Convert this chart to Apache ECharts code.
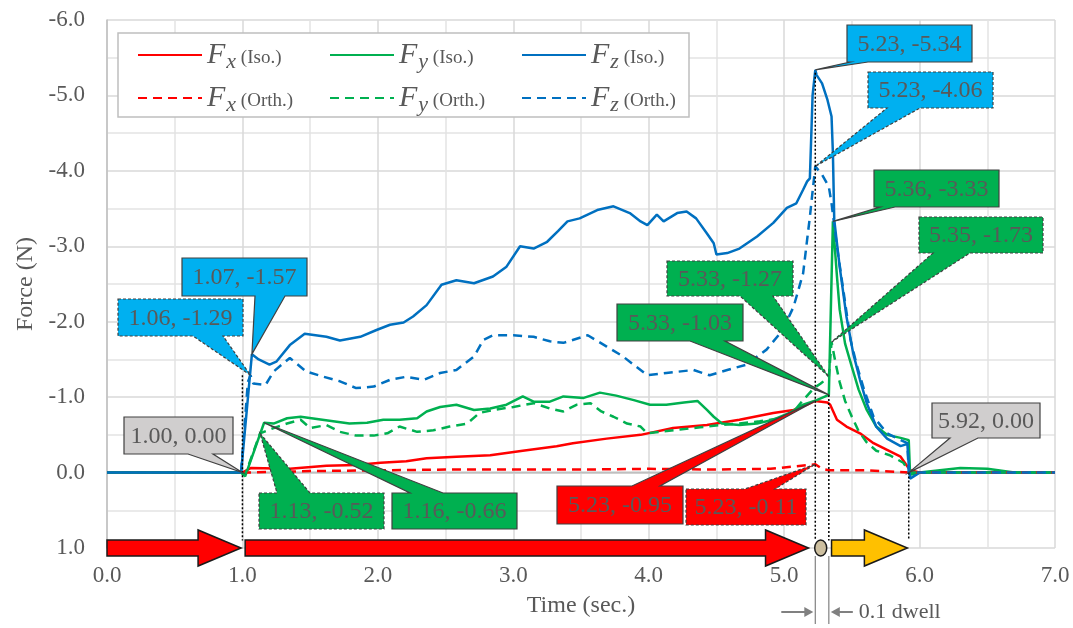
<!DOCTYPE html>
<html>
<head>
<meta charset="utf-8">
<title>Force vs time</title>
<script src="https://cdn.jsdelivr.net/npm/echarts@6/dist/echarts.min.js"></script>
<style>
  html, body { margin: 0; padding: 0; background: #ffffff; }
  #chart { width: 1073px; height: 628px; }
</style>
</head>
<body>
<div id="chart"></div>
<script>
  // ---- data (time in s, force in N) ----
  const fxIsoT = [0, 0.5, 1.0, 1.06, 1.35, 1.62, 1.84, 2.02, 2.21, 2.36, 2.58, 2.83, 3.07, 3.32, 3.44, 3.69, 3.94, 4.18, 4.43, 4.67, 4.92, 5.07, 5.17, 5.23, 5.32, 5.34, 5.39, 5.46, 5.56, 5.66, 5.76, 5.86, 5.93, 6.0, 7.0];
  const fxIsoV = [0, 0, 0, -0.06, -0.05, -0.09, -0.10, -0.13, -0.15, -0.19, -0.21, -0.23, -0.29, -0.35, -0.39, -0.45, -0.50, -0.59, -0.63, -0.70, -0.79, -0.83, -0.90, -0.95, -0.93, -0.90, -0.70, -0.61, -0.52, -0.39, -0.30, -0.21, -0.03, 0, 0];

  const fyIsoT = [0, 0.5, 0.99, 1.0, 1.02, 1.16, 1.23, 1.33, 1.43, 1.55, 1.67, 1.79, 1.92, 2.04, 2.16, 2.29, 2.36, 2.46, 2.58, 2.71, 2.83, 2.95, 3.07, 3.15, 3.27, 3.37, 3.52, 3.64, 3.76, 3.89, 4.01, 4.13, 4.26, 4.36, 4.43, 4.48, 4.54, 4.67, 4.80, 4.92, 5.04, 5.14, 5.24, 5.33, 5.36, 5.39, 5.41, 5.45, 5.50, 5.55, 5.61, 5.68, 5.76, 5.86, 5.92, 5.93, 6.0, 6.3, 6.5, 6.7, 7.0];
  const fyIsoV = [0, 0, 0, 0, 0.05, -0.66, -0.65, -0.72, -0.74, -0.71, -0.68, -0.65, -0.66, -0.70, -0.70, -0.72, -0.81, -0.87, -0.90, -0.83, -0.85, -0.90, -1.01, -0.94, -0.94, -1.01, -0.99, -1.06, -1.02, -0.96, -0.90, -0.90, -0.93, -0.95, -0.83, -0.74, -0.65, -0.63, -0.65, -0.70, -0.79, -0.90, -0.96, -1.03, -3.33, -2.60, -2.16, -1.71, -1.40, -1.10, -0.83, -0.61, -0.50, -0.46, -0.43, 0.03, 0, -0.06, -0.05, 0, 0];

  const fzIsoT = [0, 0.5, 0.99, 1.0, 1.07, 1.12, 1.20, 1.25, 1.35, 1.46, 1.62, 1.72, 1.87, 1.99, 2.09, 2.19, 2.26, 2.36, 2.47, 2.58, 2.71, 2.85, 2.95, 3.05, 3.15, 3.25, 3.33, 3.40, 3.49, 3.62, 3.74, 3.86, 3.94, 3.99, 4.06, 4.11, 4.21, 4.28, 4.35, 4.43, 4.48, 4.50, 4.58, 4.67, 4.80, 4.92, 5.02, 5.09, 5.14, 5.17, 5.19, 5.21, 5.23, 5.24, 5.28, 5.32, 5.35, 5.36, 5.37, 5.41, 5.46, 5.51, 5.56, 5.61, 5.68, 5.76, 5.86, 5.91, 5.92, 5.93, 6.0, 6.5, 7.0];
  const fzIsoV = [0, 0, 0, 0, -1.57, -1.50, -1.43, -1.47, -1.69, -1.84, -1.80, -1.75, -1.80, -1.89, -1.96, -1.99, -2.07, -2.22, -2.49, -2.55, -2.51, -2.60, -2.73, -3.00, -2.97, -3.06, -3.20, -3.33, -3.37, -3.48, -3.53, -3.44, -3.33, -3.28, -3.42, -3.33, -3.44, -3.46, -3.37, -3.17, -3.04, -2.89, -2.91, -2.97, -3.13, -3.31, -3.51, -3.57, -3.75, -3.86, -3.90, -5.00, -5.34, -5.27, -5.16, -4.94, -4.72, -4.24, -3.35, -2.73, -2.07, -1.58, -1.23, -0.92, -0.61, -0.45, -0.35, -0.38, -0.10, 0.08, 0, 0, 0];

  const fxOrthT = [0, 1.0, 1.5, 2.0, 2.5, 3.0, 3.5, 4.0, 4.5, 4.9, 5.07, 5.23, 5.28, 5.33, 5.6, 5.93, 6.0, 7.0];
  const fxOrthV = [0, 0, -0.02, -0.03, -0.04, -0.04, -0.04, -0.05, -0.04, -0.05, -0.08, -0.11, -0.05, -0.03, -0.03, 0, 0, 0];

  const fyOrthT = [0, 0.5, 0.99, 1.0, 1.02, 1.13, 1.23, 1.33, 1.43, 1.50, 1.62, 1.72, 1.84, 1.97, 2.07, 2.16, 2.29, 2.41, 2.53, 2.66, 2.75, 2.85, 3.00, 3.15, 3.27, 3.37, 3.47, 3.57, 3.65, 3.74, 3.84, 3.94, 3.99, 4.08, 4.23, 4.38, 4.53, 4.67, 4.82, 4.97, 5.07, 5.14, 5.22, 5.27, 5.33, 5.35, 5.38, 5.41, 5.45, 5.50, 5.55, 5.61, 5.68, 5.78, 5.88, 5.93, 6.0, 7.0];
  const fyOrthV = [0, 0, 0, 0, 0.03, -0.52, -0.59, -0.65, -0.70, -0.59, -0.63, -0.54, -0.49, -0.49, -0.52, -0.61, -0.54, -0.56, -0.61, -0.65, -0.79, -0.83, -0.87, -0.92, -0.85, -0.81, -0.90, -0.92, -0.81, -0.74, -0.65, -0.61, -0.52, -0.54, -0.57, -0.60, -0.63, -0.65, -0.68, -0.72, -0.81, -0.96, -1.12, -1.18, -1.27, -1.73, -1.45, -1.20, -0.95, -0.74, -0.55, -0.40, -0.29, -0.23, -0.13, 0, 0, 0];

  const fzOrthT = [0, 0.5, 0.99, 1.0, 1.04, 1.06, 1.08, 1.17, 1.23, 1.35, 1.47, 1.60, 1.72, 1.84, 1.97, 2.09, 2.21, 2.34, 2.46, 2.58, 2.71, 2.78, 2.85, 3.00, 3.15, 3.27, 3.37, 3.55, 3.69, 3.81, 3.91, 3.99, 4.13, 4.33, 4.45, 4.58, 4.72, 4.87, 4.99, 5.07, 5.14, 5.19, 5.23, 5.28, 5.33, 5.35, 5.39, 5.44, 5.49, 5.54, 5.59, 5.66, 5.76, 5.86, 5.91, 5.92, 6.0, 6.5, 7.0];
  const fzOrthV = [0, 0, 0, 0, -1.20, -1.29, -1.18, -1.16, -1.34, -1.52, -1.34, -1.27, -1.21, -1.12, -1.14, -1.23, -1.27, -1.23, -1.32, -1.36, -1.54, -1.76, -1.82, -1.82, -1.80, -1.74, -1.72, -1.82, -1.67, -1.54, -1.40, -1.29, -1.32, -1.36, -1.29, -1.36, -1.43, -1.63, -1.89, -2.20, -2.64, -3.39, -4.06, -3.95, -3.79, -3.57, -3.00, -2.38, -1.76, -1.40, -1.10, -0.74, -0.52, -0.43, -0.39, 0, 0, 0, 0];

  const zeroT = [0, 7];
  const zeroV = [0, 0];

  // ---- style ----
  const serif = 'Liberation Serif';
  const grey = '#595959';
  const RED = '#FF0000';
  const GREEN = '#00B050';
  const BLUE = '#0070C0';

  const pairs = (t, v) => t.map((x, i) => [x, v[i]]);

  const lineSeries = (name, t, v, color, dashed) => ({
    name: name,
    type: 'line',
    data: pairs(t, v),
    symbol: 'none',
    z: 3,
    lineStyle: { color: color, width: 2.5, type: dashed ? [9, 6] : 'solid' },
    itemStyle: { color: color },
  });

  const legendFormatter = function (name) {
    const p = name.split(' ');
    return '{f|F}{s|' + p[0][1] + '}{p| ' + p[1] + '}';
  };
  const legendRich = {
    f: { fontFamily: serif, fontStyle: 'italic', fontSize: 30, color: grey },
    s: { fontFamily: serif, fontStyle: 'italic', fontSize: 22, color: grey, padding: [14, 0, 0, 1] },
    p: { fontFamily: serif, fontSize: 19, color: grey, padding: [6, 0, 0, 0] },
  };
  const legendNames = [
    ['Fx (Iso.)', 'Fy (Iso.)', 'Fz (Iso.)'],
    ['Fx (Orth.)', 'Fy (Orth.)', 'Fz (Orth.)'],
  ];
  const legendCols = [137, 329, 521];
  const legendRows = [40, 83];

  const chart = echarts.init(document.getElementById('chart'));

  chart.setOption({
    animation: false,
    grid: { left: 107, right: 18, top: 20, bottom: 80 },
    legend: legendNames.flatMap((row, r) =>
      row.map((n, c) => ({
        data: [n],
        left: legendCols[c],
        top: legendRows[r],
        padding: 0,
        itemWidth: 64,
        itemHeight: 14,
        selectedMode: false,
        itemStyle: { opacity: 0 },
        formatter: legendFormatter,
        textStyle: { rich: legendRich },
      }))
    ),
    xAxis: {
      type: 'value',
      min: 0,
      max: 7,
      interval: 1,
      name: 'Time (sec.)',
      nameLocation: 'middle',
      nameGap: 46,
      nameTextStyle: { fontFamily: serif, fontSize: 24, color: grey },
      axisLine: { show: false, onZero: false },
      axisTick: { show: false },
      axisLabel: {
        margin: 16,
        fontFamily: serif,
        fontSize: 23,
        color: grey,
        formatter: (v) => v.toFixed(1),
      },
      splitLine: { lineStyle: { color: '#D9D9D9', width: 1.5 } },
      minorTick: { show: false, splitNumber: 2 },
      minorSplitLine: { show: true, lineStyle: { color: '#E3E3E3', width: 1.5 } },
    },
    yAxis: {
      type: 'value',
      inverse: true,
      min: -6,
      max: 1,
      interval: 1,
      name: 'Force (N)',
      nameLocation: 'middle',
      nameGap: 64,
      nameTextStyle: { fontFamily: serif, fontSize: 24, color: grey },
      axisLine: { show: true, lineStyle: { color: '#BFBFBF', width: 1.5 } },
      axisTick: { show: false },
      axisLabel: {
        margin: 22,
        fontFamily: serif,
        fontSize: 23,
        color: grey,
        formatter: (v) => v.toFixed(1),
      },
      splitLine: { lineStyle: { color: '#D9D9D9', width: 1.5 } },
      minorTick: { show: false, splitNumber: 2 },
      minorSplitLine: { show: true, lineStyle: { color: '#E3E3E3', width: 1.5 } },
    },
    series: [
      {
        name: 'zero',
        type: 'line',
        data: pairs(zeroT, zeroV),
        symbol: 'none',
        z: 1,
        silent: true,
        lineStyle: { color: '#BFBFBF', width: 2 },
      },
      lineSeries('Fx (Iso.)', fxIsoT, fxIsoV, RED, false),
      lineSeries('Fy (Iso.)', fyIsoT, fyIsoV, GREEN, false),
      lineSeries('Fz (Iso.)', fzIsoT, fzIsoV, BLUE, false),
      lineSeries('Fx (Orth.)', fxOrthT, fxOrthV, RED, true),
      lineSeries('Fy (Orth.)', fyOrthT, fyOrthV, GREEN, true),
      lineSeries('Fz (Orth.)', fzOrthT, fzOrthV, BLUE, true),
    ],
  });

  // ---- annotations (callouts, markers, phase arrows) ----
  const px = (t, f) => chart.convertToPixel({ gridIndex: 0 }, [t, f]);

  const C_BLUE = '#00B0F0';
  const C_GREEN = '#00B050';
  const C_RED = '#FF0000';
  const C_GREY = '#D0CECE';

  const callouts = [
    { text: '1.07, -1.57', box: [182, 258, 307, 296], edge: 'bottom', base: [255, 285], tip: [1.07, -1.57], fill: C_BLUE, dashed: false },
    { text: '1.06, -1.29', box: [118, 299, 243, 336], edge: 'bottom', base: [193, 223], tip: [1.06, -1.29], fill: C_BLUE, dashed: true },
    { text: '1.00, 0.00', box: [124, 417, 233, 454], edge: 'bottom', base: [188, 213], tip: [1.0, 0], fill: C_GREY, dashed: false },
    { text: '1.13, -0.52', box: [259, 493, 384, 529], edge: 'top', base: [277, 310], tip: [1.13, -0.52], fill: C_GREEN, dashed: true },
    { text: '1.16, -0.66', box: [392, 493, 517, 529], edge: 'top', base: [410, 443], tip: [1.16, -0.66], fill: C_GREEN, dashed: false },
    { text: '5.23, -0.95', box: [557, 486, 683, 524], edge: 'top', base: [632, 660], tip: [5.23, -0.95], fill: C_RED, dashed: false },
    { text: '5.23, -0.11', box: [686, 489, 806, 525], edge: 'top', base: [745, 775], tip: [5.23, -0.11], fill: C_RED, dashed: true },
    { text: '5.33, -1.27', box: [667, 261, 793, 296], edge: 'bottom', base: [740, 773], tip: [5.33, -1.27], fill: C_GREEN, dashed: true },
    { text: '5.33, -1.03', box: [617, 304, 743, 341], edge: 'bottom', base: [690, 725], tip: [5.33, -1.03], fill: C_GREEN, dashed: false },
    { text: '5.23, -5.34', box: [847, 25, 972, 62], edge: 'bottom', base: [850, 868], tip: [5.23, -5.34], fill: C_BLUE, dashed: false },
    { text: '5.23, -4.06', box: [868, 72, 993, 108], edge: 'bottom', base: [887, 920], tip: [5.23, -4.06], fill: C_BLUE, dashed: true },
    { text: '5.36, -3.33', box: [874, 170, 999, 207], edge: 'bottom', base: [880, 895], tip: [5.36, -3.33], fill: C_GREEN, dashed: false },
    { text: '5.35, -1.73', box: [919, 217, 1043, 253], edge: 'bottom', base: [933, 970], tip: [5.35, -1.73], fill: C_GREEN, dashed: true },
    { text: '5.92, 0.00', box: [932, 403, 1040, 438], edge: 'bottom', base: [950, 978], tip: [5.92, 0], fill: C_GREY, dashed: false },
  ];

  // vertical dotted markers: [time, force at top, force at bottom]
  const markerLines = [[1.0, -1.29, 0.9], [5.23, -5.3, 0.9], [5.33, -1.03, 0.9], [5.92, 0, 0.88]];
  // phase arrows along F = 1.0: [start, end, colour]
  const phaseArrows = [[0.0, 0.99, RED], [1.02, 5.18, RED], [5.35, 5.91, '#FFC000']];
  const dwellAt = 5.27;
  const dwellFrom = 5.23;
  const dwellTo = 5.33;

  const calloutShapes = (c) => {
    const [x1, y1, x2, y2] = c.box;
    const [b1, b2] = c.base;
    const tip = px(c.tip[0], c.tip[1]);
    const pts = c.edge === 'top'
      ? [[x1, y1], [b1, y1], tip, [b2, y1], [x2, y1], [x2, y2], [x1, y2]]
      : [[x1, y1], [x2, y1], [x2, y2], [b2, y2], tip, [b1, y2], [x1, y2]];
    return [
      {
        type: 'polygon',
        z: 20,
        shape: { points: pts },
        style: { fill: c.fill, stroke: '#404040', lineWidth: 1.2, lineDash: c.dashed ? [3, 2] : null },
      },
      {
        type: 'text',
        z: 21,
        x: (x1 + x2) / 2,
        y: (y1 + y2) / 2 + 1,
        style: {
          text: c.text,
          fontFamily: serif,
          fontSize: 24,
          fill: grey,
          align: 'center',
          verticalAlign: 'middle',
          textAlign: 'center',
          textVerticalAlign: 'middle',
        },
      },
    ];
  };

  const arrowShape = ([t0, t1, color]) => {
    const [x0, yc] = px(t0, 1);
    const x1 = px(t1, 1)[0];
    const hl = 43;
    return {
      type: 'polygon',
      z: 15,
      shape: {
        points: [[x0, yc - 8], [x1 - hl, yc - 8], [x1 - hl, yc - 18], [x1, yc], [x1 - hl, yc + 18], [x1 - hl, yc + 8], [x0, yc + 8]],
      },
      style: { fill: color, stroke: '#1a1a1a', lineWidth: 1.5 },
    };
  };

  const graphics = [];

  // legend frame
  graphics.push({
    type: 'rect',
    z: 3,
    shape: { x: 118, y: 33, width: 571, height: 84 },
    style: { fill: '#ffffff', stroke: '#BFBFBF', lineWidth: 1.5 },
  });

  markerLines.forEach(([t, top, bottom]) => {
    const a = px(t, top);
    const b = px(t, bottom);
    graphics.push({
      type: 'line',
      z: 12,
      shape: { x1: a[0], y1: a[1], x2: b[0], y2: b[1] },
      style: { stroke: '#000000', lineWidth: 1.5, lineDash: [2, 2] },
    });
  });

  phaseArrows.forEach((a) => graphics.push(arrowShape(a)));

  const dwellCentre = px(dwellAt, 1);
  graphics.push({
    type: 'ellipse',
    z: 15,
    shape: { cx: dwellCentre[0], cy: dwellCentre[1], rx: 6, ry: 8 },
    style: { fill: '#CDBF9F', stroke: '#1a1a1a', lineWidth: 1.5 },
  });

  // "0.1 dwell" dimension below the axis
  const xa = px(dwellFrom, 1)[0];
  const xb = px(dwellTo, 1)[0];
  const dimY = 612;
  [xa, xb].forEach((x) =>
    graphics.push({
      type: 'line',
      z: 12,
      shape: { x1: x, y1: 556, x2: x, y2: 624 },
      style: { stroke: '#808080', lineWidth: 1.2 },
    })
  );
  graphics.push(
    { type: 'line', z: 12, shape: { x1: xa - 34, y1: dimY, x2: xa - 8, y2: dimY }, style: { stroke: '#808080', lineWidth: 2 } },
    { type: 'polygon', z: 12, shape: { points: [[xa - 2, dimY], [xa - 11, dimY - 5], [xa - 11, dimY + 5]] }, style: { fill: '#808080' } },
    { type: 'line', z: 12, shape: { x1: xb + 8, y1: dimY, x2: xb + 24, y2: dimY }, style: { stroke: '#808080', lineWidth: 2 } },
    { type: 'polygon', z: 12, shape: { points: [[xb + 2, dimY], [xb + 11, dimY - 5], [xb + 11, dimY + 5]] }, style: { fill: '#808080' } },
    {
      type: 'text',
      z: 12,
      x: xb + 30,
      y: dimY,
      style: {
        text: '0.1 dwell',
        fontFamily: serif,
        fontSize: 22,
        fill: grey,
        align: 'left',
        verticalAlign: 'middle',
        textAlign: 'left',
        textVerticalAlign: 'middle',
      },
    }
  );

  callouts.forEach((c) => graphics.push(...calloutShapes(c)));

  chart.setOption({ graphic: graphics });

  window.addEventListener('resize', function () {
    chart && chart.resize();
  });
</script>
</body>
</html>
